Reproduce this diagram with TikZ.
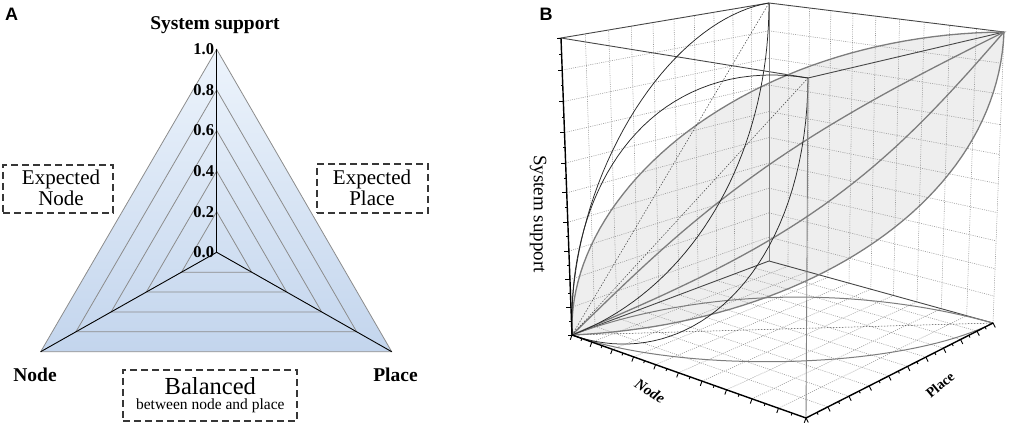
\documentclass[tikz,border=0pt]{standalone}
\usepackage{fontspec}
\setmainfont{Liberation Serif}
\newfontfamily\lsans{Liberation Sans}
\usetikzlibrary{calc}
\definecolor{triTop}{RGB}{237,244,252}
\definecolor{triBot}{RGB}{195,213,237}
\definecolor{triGrid}{RGB}{140,140,140}
\definecolor{boxCol}{RGB}{55,55,55}
\definecolor{lensFill}{RGB}{238,238,238}
\definecolor{gridCol}{RGB}{150,150,150}
\definecolor{curveGray}{RGB}{125,125,125}
\definecolor{edgeDark}{RGB}{70,70,70}
\begin{document}
\begin{tikzpicture}[x=1pt,y=-1pt,
  declare function={
    wn(\xa)=1-1.2*(1-\xa)/(1+0.2*(1-\xa));
    wp(\xa)=1.19*\xa/(1+0.19*\xa);
    ws(\xa)=1-1.09*(1-\xa)/(1+0.09*(1-\xa));
    bx(\xa,\xb)=(1-\xa)*(1-\xb)*572+\xa*(1-\xb)*806+\xa*\xb*993+(1-\xa)*\xb*769;
    tx(\xa,\xb)=(1-\xa)*(1-\xb)*561+\xa*(1-\xb)*808+\xa*\xb*1004+(1-\xa)*\xb*769;
    by(\xa,\xb)=(1-\xa)*(1-\xb)*335+\xa*(1-\xb)*418+\xa*\xb*323+(1-\xa)*\xb*261;
    ty(\xa,\xb)=(1-\xa)*(1-\xb)*38+\xa*(1-\xb)*78+\xa*\xb*32+(1-\xa)*\xb*3;
    X(\xa,\xb,\xc)=(1-ws(\xc))*bx(wn(\xa),wp(\xb))+ws(\xc)*tx(wn(\xa),wp(\xb));
    Y(\xa,\xb,\xc)=(1-ws(\xc))*by(wn(\xa),wp(\xb))+ws(\xc)*ty(wn(\xa),wp(\xb));
  },
  triline/.style={draw=triGrid, line width=0.8pt},
  triaxis/.style={draw=black, line width=0.9pt},
  ticklab/.style={font=\bfseries\fontsize{16.5}{17}\selectfont, inner sep=0pt, anchor=base east},
  biglab/.style={font=\bfseries\fontsize{19.5}{20}\selectfont, inner sep=0pt, anchor=base},
  dbox/.style={draw=boxCol, line width=2pt, dash pattern=on 7pt off 4pt, inner sep=0pt},
  boxtxt/.style={font=\fontsize{21}{21}\selectfont, inner sep=0pt, anchor=base},
  panlab/.style={font=\lsans\bfseries\fontsize{18}{18}\selectfont, inner sep=0pt},
  gridB/.style={draw=gridCol, line width=0.55pt, dash pattern=on 1pt off 1.2pt},
  edgeT/.style={draw=edgeDark, line width=0.9pt},
  edgeG/.style={draw=gray, line width=0.9pt},
  axisB/.style={draw=black, line width=1.4pt},
  blackc/.style={draw=black!85, line width=0.75pt},
  grayc/.style={draw=curveGray, line width=1.3pt},
  dashc/.style={draw=black!75, line width=0.5pt, dash pattern=on 1.5pt off 1.5pt},
  tickB/.style={draw=black, line width=0.9pt},
]
\useasboundingbox (0,0) rectangle (1010,427);

%% ---------------- Panel A ----------------
\node[panlab] (labA) at (11.7,14.2) {A};
\coordinate (C) at (216.7,252.3);
\coordinate (Ap) at (216.7,49.3);
\coordinate (Lp) at (40.7,351.7);
\coordinate (Rp) at (391.7,351.7);
\shade[top color=triTop, bottom color=triBot] (Ap) -- (Lp) -- (Rp) -- cycle;
\foreach \s in {0.2,0.4,0.6,0.8,1}{
  \draw[triline] ($(C)!\s!(Ap)$) -- ($(C)!\s!(Lp)$) -- ($(C)!\s!(Rp)$) -- cycle;
}
\draw[triaxis] (C) -- (Ap);
\draw[triaxis] (C) -- (Lp);
\draw[triaxis] (C) -- (Rp);
\foreach \v [count=\k] in {0.0,0.2,0.4,0.6,0.8,1.0}{
  \node[ticklab] (tk\k) at ($(C)!\v!(Ap)+(-2.5,5.5)$) {\v};
}
\node[biglab] (ssA) at (215,29.3) {System support};
\node[biglab] (nodeA) at (35,381.7) {Node};
\node[biglab] (placeA) at (395.5,381.7) {Place};

\node[dbox, minimum width=110pt, minimum height=48pt] (boxN) at (58.2,189) {};
\node[boxtxt] (bn1) at (61,185) {Expected};
\node[boxtxt] (bn2) at (61,205.5) {Node};
\node[dbox, minimum width=111pt, minimum height=49pt] (boxP) at (372.5,188.5) {};
\node[boxtxt] (bp1) at (372,184.5) {Expected};
\node[boxtxt] (bp2) at (372,205.5) {Place};
\node[dbox, minimum width=174pt, minimum height=51pt] (boxB) at (210,395.5) {};
\node[boxtxt, font=\fontsize{24.5}{24}\selectfont] (bb1) at (210.3,395) {Balanced};
\node[boxtxt, font=\fontsize{15.5}{16}\selectfont] (bb2) at (210.3,409.3) {between node and place};

%% ---------------- Panel B ----------------
\node[panlab] (labB) at (546,14.2) {B};
\coordinate (O) at (572,335);
\coordinate (N1) at (806,418);
\coordinate (NP) at (993,323);
\coordinate (P1) at (769,261);
\coordinate (Ot) at (561,38);
\coordinate (N1t) at (808,78);
\coordinate (NPt) at (1004,32);
\coordinate (P1t) at (769,3);

% lens fill (diagonal plane)
\fill[lensFill] plot[domain=0:90,samples=50,variable=\q] ({X(1-cos(\q),1-cos(\q),sin(\q))},{Y(1-cos(\q),1-cos(\q),sin(\q))})
  -- plot[domain=90:0,samples=50,variable=\q] ({X(sin(\q),sin(\q),1-cos(\q))},{Y(sin(\q),sin(\q),1-cos(\q))}) -- cycle;

% grids
\foreach \i in {1,...,9}{
  \pgfmathsetmacro\u{\i/10}
  \draw[gridB] ({X(\u,0,0)},{Y(\u,0,0)}) -- ({X(\u,1,0)},{Y(\u,1,0)});
  \draw[gridB] ({X(0,\u,0)},{Y(0,\u,0)}) -- ({X(1,\u,0)},{Y(1,\u,0)});
  \draw[gridB] ({X(0,\u,0)},{Y(0,\u,0)}) -- ({X(0,\u,1)},{Y(0,\u,1)});
  \draw[gridB] ({X(0,0,\u)},{Y(0,0,\u)}) -- ({X(0,1,\u)},{Y(0,1,\u)});
  \draw[gridB] ({X(\u,1,0)},{Y(\u,1,0)}) -- ({X(\u,1,1)},{Y(\u,1,1)});
  \draw[gridB] ({X(0,1,\u)},{Y(0,1,\u)}) -- ({X(1,1,\u)},{Y(1,1,\u)});
}
\draw[gridB] (NP) -- (NPt);

% back / top edges
\draw[edgeT] (Ot) -- (P1t) -- (NPt) -- (N1t) -- cycle;
\draw[edgeG] (P1) -- (P1t);
\draw[edgeT] (O) -- (P1) -- (NP);

% floor curves
\draw[grayc, line width=1pt] plot[domain=0:90,samples=40,variable=\q] ({X(1-cos(\q),sin(\q),0)},{Y(1-cos(\q),sin(\q),0)});
\draw[grayc, line width=1pt] plot[domain=0:90,samples=40,variable=\q] ({X(sin(\q),1-cos(\q),0)},{Y(sin(\q),1-cos(\q),0)});
\draw[dashc] (O) -- (NP);

% diagonal plane curves
\draw[grayc] plot[domain=0:90,samples=50,variable=\q] ({X(1-cos(\q),1-cos(\q),sin(\q))},{Y(1-cos(\q),1-cos(\q),sin(\q))});
\draw[grayc] plot[domain=0:90,samples=50,variable=\q] ({X(sin(\q),sin(\q),1-cos(\q))},{Y(sin(\q),sin(\q),1-cos(\q))});
\draw[grayc] plot[domain=0:1,samples=40,variable=\t] ({X(\t-0.055*sin(180*\t),\t-0.055*sin(180*\t),\t+0.055*sin(180*\t))},{Y(\t-0.055*sin(180*\t),\t-0.055*sin(180*\t),\t+0.055*sin(180*\t))});
\draw[grayc] plot[domain=0:1,samples=40,variable=\t] ({X(\t+0.08*sin(180*\t),\t+0.08*sin(180*\t),\t-0.08*sin(180*\t))},{Y(\t+0.08*sin(180*\t),\t+0.08*sin(180*\t),\t-0.08*sin(180*\t))});

% left wall (n=0) curves
\draw[blackc] plot[domain=0:90,samples=40,variable=\q] ({X(0,1-cos(\q),sin(\q))},{Y(0,1-cos(\q),sin(\q))});
\draw[blackc] plot[domain=0:90,samples=40,variable=\q] ({X(0,sin(\q),1-cos(\q))},{Y(0,sin(\q),1-cos(\q))});
\draw[dashc] (O) -- (P1t);

% front wall (p=0) curves
\draw[blackc] plot[domain=0:90,samples=40,variable=\q] ({X(1-cos(\q),0,sin(\q))},{Y(1-cos(\q),0,sin(\q))});
\draw[blackc] plot[domain=0:90,samples=40,variable=\q] ({X(sin(\q),0,1-cos(\q))},{Y(sin(\q),0,1-cos(\q))});
\draw[dashc] (O) -- (N1t);

% front vertical edge
\draw[edgeG] (N1) -- (N1t);

% axes
\draw[axisB] (O) -- (Ot);
\draw[axisB] (O) -- (N1) -- (NP);

% ticks
\foreach \i in {0,...,20}{
  \pgfmathsetmacro\u{\i/20}
  \ifodd\i \def\tl{0.5}\else\def\tl{1}\fi
  \draw[tickB] ({X(0,0,\u)},{Y(0,0,\u)}) -- ++(-4.5*\tl,0);
  \draw[tickB] ({X(\u,0,0)},{Y(\u,0,0)}) -- ++(-1.7*\tl,4.7*\tl);
  \draw[tickB] ({X(1,\u,0)},{Y(1,\u,0)}) -- ++(2.3*\tl,4.5*\tl);
}

% axis labels
\node[font=\fontsize{19}{19}\selectfont, rotate=-90, inner sep=0pt] (ssB) at (538,214) {System support};
\node[font=\bfseries\itshape\fontsize{15}{15}\selectfont, rotate=-33, inner sep=0pt] (nodeB) at (650,391) {Node};
\node[font=\bfseries\fontsize{14}{14}\selectfont, rotate=40, inner sep=0pt] (placeB) at (940,385) {Place};
\end{tikzpicture}
\end{document}
